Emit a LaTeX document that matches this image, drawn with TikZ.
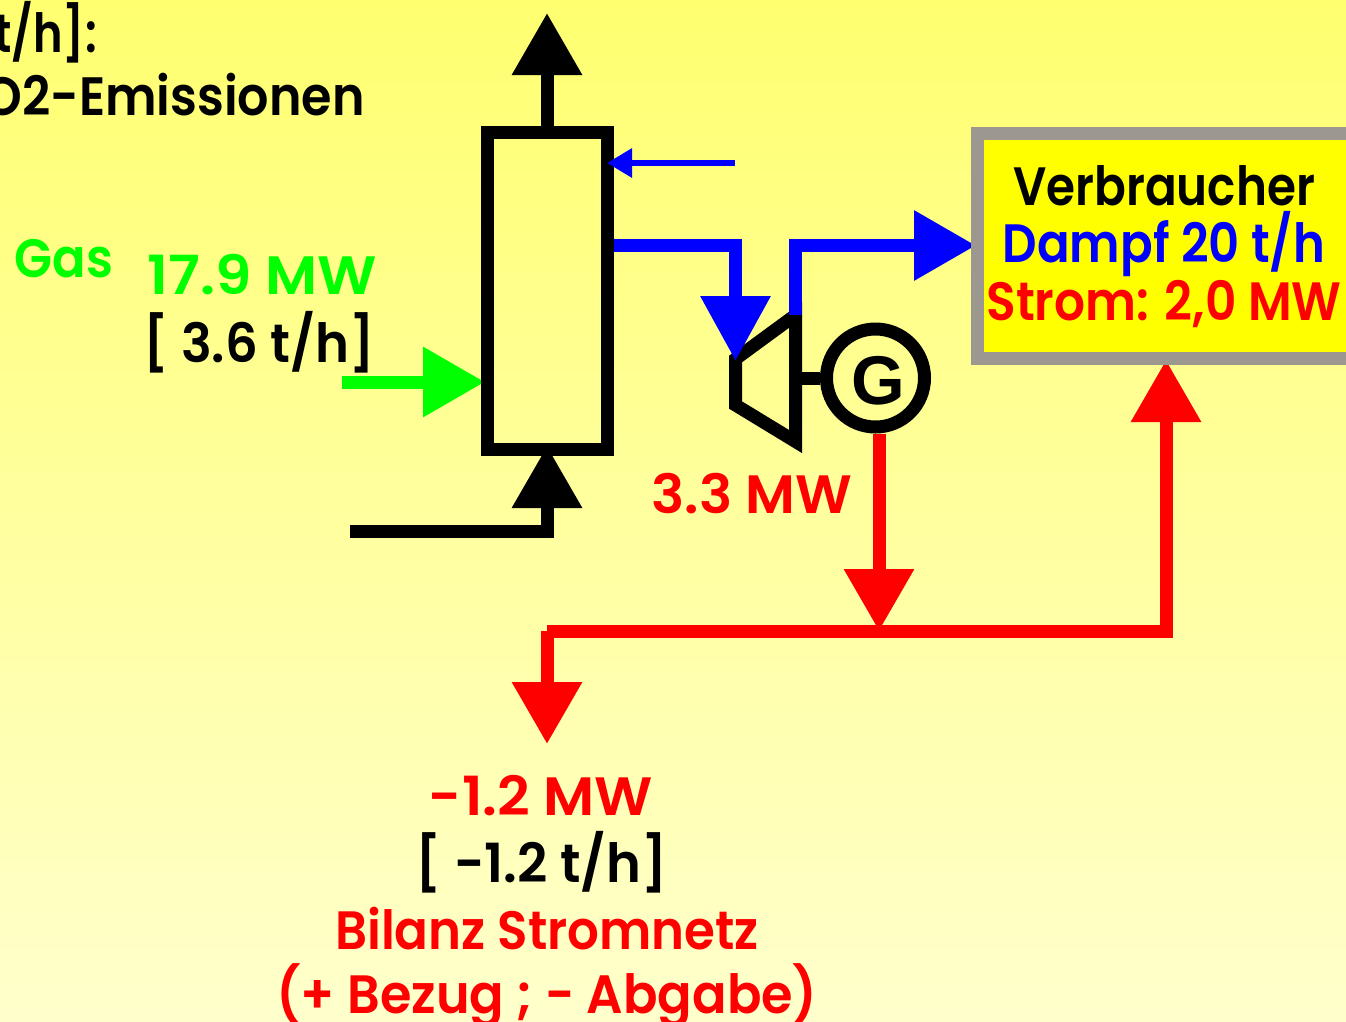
\documentclass[tikz,border=0pt]{standalone}
\usepackage{fontspec}
\setmainfont{Poppins}[BoldFont={Poppins SemiBold},FakeStretch=0.88]
\newfontfamily\gfont{Liberation Sans}[BoldFont={Liberation Sans Bold}]
\usetikzlibrary{arrows.meta,backgrounds}
\definecolor{bgtop}{HTML}{FFFF70}
\definecolor{bgbot}{HTML}{FFFFCC}
\definecolor{edgegray}{HTML}{9C9890}
\definecolor{pure}{HTML}{00FF00}
\definecolor{pureyellow}{HTML}{FFFF00}
\definecolor{purered}{HTML}{FF0000}
\definecolor{pureblue}{HTML}{0000FF}
\tikzset{
  pipe/.style={line width=13pt,line join=miter,line cap=butt},
  bigtip/.style={-{Triangle[length=62pt,width=67pt]}},
  lbl/.style={font=\bfseries\fontsize{54pt}{54pt}\selectfont,inner sep=0pt,anchor=base,transform shape,xscale=#1},
  lbl/.default=1
}
\begin{document}
\begin{tikzpicture}[x=1pt,y=-1pt]
\useasboundingbox (0,0) rectangle (1346,1021);
% text top left
\node[lbl=0.94,anchor=base east] (t1) at (97,52) {[t/h]:};
\node[lbl=1.036,anchor=base east] (t2) at (365,115) {CO2-Emissionen};
% boiler
\node[draw=black,line width=13pt,minimum width=120pt,minimum height=317pt,inner sep=0pt] (boiler) at (547.5,291) {};
% consumer
\node[draw=edgegray,fill=pureyellow,line width=13pt,minimum width=410pt,minimum height=225pt,inner sep=0pt] (cons) at (1182.5,246) {};
\node[lbl=0.987,text=black] (v1) at (1164,205) {Verbraucher};
\node[lbl=1.013,text=pureblue] (v2) at (1164,262) {Dampf 20 t/h};
\node[lbl=1.023,text=purered] (v3) at (1164,320) {Strom: 2,0 MW};
% generator
\node[circle,draw=black,line width=13pt,minimum size=98pt,inner sep=0pt] (gen) at (875.5,378) {};
\node[inner sep=0pt,font=\gfont\bfseries\fontsize{69pt}{69pt}\selectfont] (gl) at (878,381) {G};
% named points
\coordinate (tb1) at (735.5,359);
\coordinate (tb2) at (795.5,315);
\coordinate (tb3) at (795.5,441.5);
\coordinate (tb4) at (735.5,405);
\coordinate (stack) at (547,13);
\coordinate (air) at (350,531);
\coordinate (airin) at (547,446);
\coordinate (gas) at (342,382);
\coordinate (gasin) at (485,382);
\coordinate (s1) at (735.5,245.5);
\coordinate (s1e) at (735.5,361);
\coordinate (s2) at (795.5,245.5);
\coordinate (s2e) at (976,245.5);
\coordinate (rj) at (879,631);
\coordinate (rl) at (547,631);
\coordinate (rr) at (1166,631);
\coordinate (re) at (1166,360);
\coordinate (gridout) at (547,744);
\coordinate (wstart) at (735,163);
\coordinate (wend) at (607,163);
\begin{scope}[on background layer]
\shade[top color=bgtop,bottom color=bgbot] (0,0) rectangle (1346,1021);
% turbine
\draw[pipe] (tb1) -- (tb2) -- (tb3) -- (tb4) -- cycle;
\draw[pipe] (tb2 |- gen) -- (gen.west);
% black arrows
\draw[pipe,bigtip] (boiler.north -| stack) -- (stack);
\draw[pipe,bigtip] (air) -- (airin |- air) -- (airin);
% green
\draw[pipe,draw=pure,-{Triangle[length=62pt,width=67pt,fill=pure]}] (gas) -- (gasin);
% blue steam
\draw[pipe,draw=pureblue,-{Triangle[length=65pt,width=67pt]}] (boiler.east |- s1) -- (s1) -- (s1e);
\draw[pipe,draw=pureblue,bigtip] (tb2) -- (s2) -- (s2e);
% red
\draw[pipe,draw=purered,bigtip] (rj |- gen.south) -- (rj);
\draw[pipe,draw=purered,bigtip] (rl) -- (rr) -- (re);
\draw[pipe,draw=purered,bigtip] (rl) -- (gridout);
\end{scope}
% blue small
\draw[line width=6pt,draw=pureblue,-{Triangle[length=25pt,width=28pt]}] (wstart) -- (wend);
% labels
\node[lbl=1.04,text=pure] (gaslbl) at (64,277) {Gas};
\node[lbl=1.22,text=pure] (p1) at (262,294) {17.9 MW};
\node[lbl=1.08] (p2) at (259,362) {[ 3.6 t/h]};
\node[lbl=1.167,text=purered] (p3) at (752,513) {3.3 MW};
\node[lbl=1.198,text=purered] (q1) at (541,815) {-1.2 MW};
\node[lbl=1.11] (q2) at (541.5,882) {[ -1.2 t/h]};
\node[lbl=1.05,text=purered] (q3) at (547,949) {Bilanz Stromnetz};
\node[lbl=1.072,text=purered] (q4) at (547,1013) {(+ Bezug ; - Abgabe)};
\end{tikzpicture}
\end{document}
